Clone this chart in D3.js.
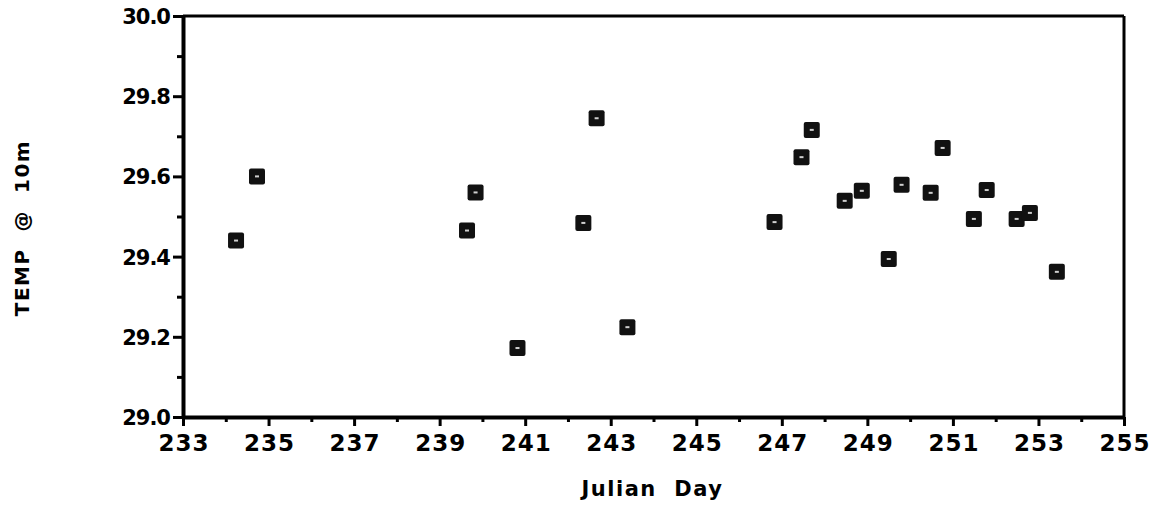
<!DOCTYPE html>
<html>
<head>
<meta charset="utf-8">
<script src="https://cdn.jsdelivr.net/npm/d3@7"></script>
<style>
  html, body { margin: 0; padding: 0; background: #fff; }
  svg { display: block; }
  text { font-family: "DejaVu Sans", "Liberation Sans", Arial, sans-serif; font-weight: bold; fill: #000; }
</style>
</head>
<body>
<svg id="chart" width="1162" height="510"></svg>
<script>
// Julian day of each observation
const days = [234.24, 234.73, 239.64, 239.84, 240.82, 242.36, 242.67, 243.39,
              246.83, 247.46, 247.70, 248.47, 248.87, 249.50, 249.80, 250.48,
              250.76, 251.49, 251.79, 252.49, 252.80, 253.43];
// Temperature at 10 m
const temps = [29.44, 29.60, 29.465, 29.56, 29.172, 29.484, 29.745, 29.224,
               29.486, 29.648, 29.716, 29.539, 29.564, 29.394, 29.579, 29.559,
               29.671, 29.494, 29.566, 29.494, 29.509, 29.362];
const xTickLabels = [233, 235, 237, 239, 241, 243, 245, 247, 249, 251, 253, 255];
const yTickLabels = [29.0, 29.2, 29.4, 29.6, 29.8, 30.0];

const svg = d3.select("#chart");
const m = { left: 183, right: 1124, top: 16, bottom: 417 };

const x = d3.scaleLinear().domain([233, 255]).range([m.left, m.right]);
const y = d3.scaleLinear().domain([29.0, 30.0]).range([m.bottom, m.top]);

// frame (top & right)
svg.append("line").attr("x1", m.left).attr("x2", m.right).attr("y1", m.top).attr("y2", m.top)
  .attr("stroke", "#000").attr("stroke-width", 3);
svg.append("line").attr("x1", m.right).attr("x2", m.right).attr("y1", m.top).attr("y2", m.bottom)
  .attr("stroke", "#000").attr("stroke-width", 3);

// x axis
const xAxis = d3.axisBottom(x).tickValues(d3.range(233, 256, 1))
  .tickFormat(d => xTickLabels.includes(d) ? d : "")
  .tickSize(0).tickPadding(0);
const gx = svg.append("g").attr("transform", `translate(0,${m.bottom})`).call(xAxis);
gx.select(".domain").attr("stroke-width", 4).attr("stroke", "#000");
gx.selectAll(".tick line")
  .attr("y2", d => xTickLabels.includes(d) ? 9 : 5)
  .attr("stroke-width", 3).attr("stroke", "#000");
gx.selectAll(".tick text")
  .attr("y", 34).attr("dy", 0)
  .style("font-size", "23px").style("letter-spacing", "1px")
  .attr("dx", "0.5px");

// y axis
const yAxis = d3.axisLeft(y).tickValues(d3.range(0, 11).map(i => +(29 + i * 0.1).toFixed(1)))
  .tickFormat(d => yTickLabels.some(v => Math.abs(v - d) < 1e-9) ? d3.format(".1f")(d) : "")
  .tickSize(0).tickPadding(0);
const gy = svg.append("g").attr("transform", `translate(${m.left},0)`).call(yAxis);
gy.select(".domain").attr("stroke-width", 4).attr("stroke", "#000");
gy.selectAll(".tick line")
  .attr("x2", d => yTickLabels.some(v => Math.abs(v - d) < 1e-9) ? -10 : -6)
  .attr("stroke-width", 3).attr("stroke", "#000");
gy.selectAll(".tick text")
  .attr("x", -13).attr("dy", "0.36em")
  .style("font-size", "21px").style("letter-spacing", "-1px");

// axis titles
svg.append("text").attr("x", (m.left + m.right) / 2 - 1).attr("y", 496)
  .attr("text-anchor", "middle").style("font-size", "21px").style("letter-spacing", "1.5px")
  .attr("xml:space", "preserve").text("Julian  Day");
svg.append("text").attr("transform", "translate(29,228) rotate(-90)")
  .attr("text-anchor", "middle").style("font-size", "20px").style("letter-spacing", "1.5px")
  .attr("xml:space", "preserve").text("TEMP  @  10m");

// markers
const pts = days.map((d, i) => ({ d, t: temps[i] }));
const s = 16;
const g = svg.append("g");
g.selectAll("rect.mk").data(pts).enter().append("rect").attr("class", "mk")
  .attr("x", p => x(p.d) - s / 2).attr("y", p => y(p.t) - s / 2)
  .attr("width", s).attr("height", s).attr("rx", 2)
  .attr("fill", "#111");
g.selectAll("rect.in").data(pts).enter().append("rect").attr("class", "in")
  .attr("x", p => x(p.d) - 2).attr("y", p => y(p.t) - 1)
  .attr("width", 4).attr("height", 2)
  .attr("fill", "#fff").attr("opacity", 0.8);
</script>
</body>
</html>
